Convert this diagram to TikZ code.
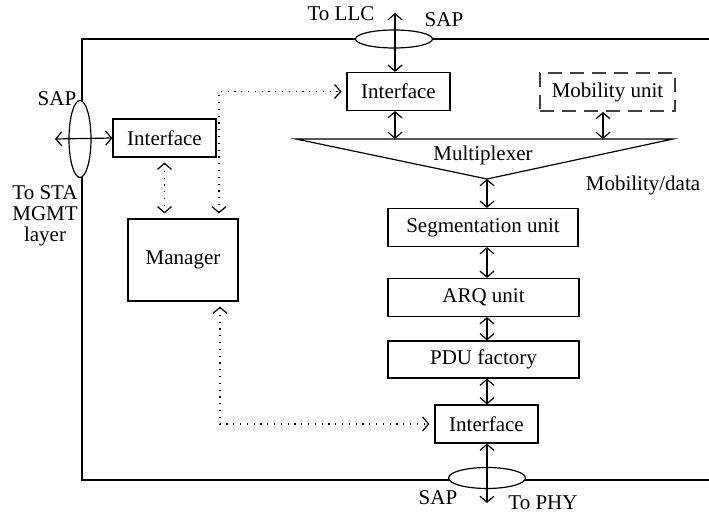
\documentclass[tikz,border=0pt]{standalone}
\usepackage{fontspec}
\setmainfont{Liberation Serif}
\usetikzlibrary{arrows.meta}

\begin{document}
\begin{tikzpicture}[x=0.5pt,y=0.5pt,line width=0.6pt,
  >={Straight Barb[length=3pt,width=7pt]},
  every node/.style={font=\fontsize{10.5}{12.5}\selectfont},
  blk/.style={draw,inner sep=0pt,minimum height=19pt},
  mgmt/.style={dash pattern=on 0.6pt off 2.8pt,<->,shorten <=2.5pt,shorten >=2.5pt},
  sap/.style={draw,fill=white}]
  \useasboundingbox (0,0) rectangle (709,-518);
  % frame of the MAC layer
  \draw (709,-39) -- (82,-39) -- (82,-480) -- (709,-480);
  % service access points
  \draw [sap] (394,-39) ellipse [x radius=19.25pt,y radius=4.5pt];
  \draw [sap] (80,-139) ellipse [x radius=5.5pt,y radius=19.25pt];
  \draw [sap] (487,-478) ellipse [x radius=19.25pt,y radius=5.25pt];
  % blocks
  \node [blk,minimum width=51.5pt] (ifcL) at (164.5,-138) {Interface};
  \node [blk,minimum width=51.5pt] (ifcT) at (398.5,-91.5) {Interface};
  \node [draw,dash pattern=on 7pt off 4pt,line width=1pt,draw=black!75,
         inner sep=0pt,minimum width=67.5pt,minimum height=19pt] (mob) at (607.5,-92) {Mobility unit};
  \node [blk,minimum width=55pt,minimum height=41pt] (mgr) at (183,-260) {Manager};
  \node [blk,minimum width=95pt] (seg) at (483,-227.5) {Segmentation unit};
  \node [blk,minimum width=95.5pt] (arq) at (483.5,-297.5) {ARQ unit};
  \node [blk,minimum width=95.5pt,minimum height=18.5pt] (pdu) at (483.5,-359.5) {PDU factory};
  \node [blk,minimum width=51.5pt] (ifcB) at (486.5,-424) {Interface};
  % multiplexer
  \coordinate (muxL) at (296,-139);
  \coordinate (muxR) at (673,-139);
  \coordinate (muxB) at (487,-179);
  \draw (muxL) -- (muxR) -- (muxB) -- cycle;
  \node (muxlbl) at (483,-155) {Multiplexer};
  \node (mdlbl) at (643,-185) {Mobility/data};
  % free ends
  \coordinate (llc) at (395,-13);
  \coordinate (sta) at (55,-139);
  \coordinate (phy) at (487,-503);
  \coordinate (mobx) at (603,-139);
  % data path
  \draw [<->] (llc) -- (llc |- ifcT.north);
  \draw [<->] (llc |- ifcT.south) -- (llc |- muxL);
  \draw [<->] (mobx |- mob.south) -- (mobx);
  \draw [<->] (muxB) -- (muxB |- seg.north);
  \draw [<->] (muxB |- seg.south) -- (muxB |- arq.north);
  \draw [<->] (muxB |- arq.south) -- (muxB |- pdu.north);
  \draw [<->] (muxB |- pdu.south) -- (muxB |- ifcB.north);
  \draw [<->] (muxB |- ifcB.south) -- (phy);
  \draw [<->] (sta) -- (ifcL.west);
  % management links
  \draw [mgmt] (ifcL.south) -- (ifcL.south |- mgr.north);
  \draw [mgmt] ([xshift=18pt]mgr.north) |- (ifcT.west);
  \draw [mgmt] ([xshift=18.5pt]mgr.south) |- (ifcB.west);
  % labels
  \node (llclbl) at (341,-14) {To LLC};
  \node (saptlbl) at (444,-20) {SAP};
  \node (saplbl) at (57,-99) {SAP};
  \node [align=center,font=\fontsize{10.5}{10.5}\selectfont] (stalbl) at (45,-216) {To STA\\MGMT\\layer};
  \node (sapblbl) at (438,-498) {SAP};
  \node (phylbl) at (543,-503) {To PHY};
\end{tikzpicture}
\end{document}
